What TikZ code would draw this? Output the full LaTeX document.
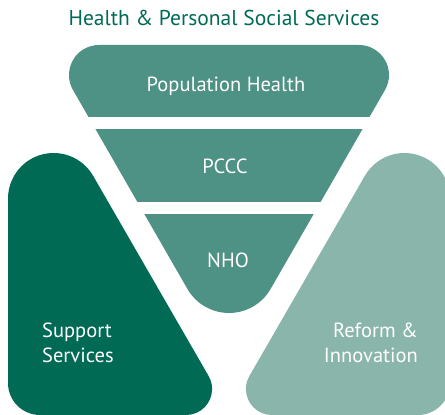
\documentclass[tikz,border=0pt]{standalone}
\usepackage{fontspec}
\setmainfont{PT Sans}
\definecolor{hpssdark}{HTML}{006A55}
\definecolor{hpssmid}{HTML}{4E9185}
\definecolor{hpsslight}{HTML}{8AB5AB}

\begin{document}
\begin{tikzpicture}[x=1pt, y=1pt,
  every node/.style={font=\fontsize{20.5}{25.5}\selectfont, text=white, inner sep=0pt, anchor=base},
  band/.style={fill=hpssmid}]
\clip (0,0) rectangle (445,415);
\begin{scope}
\clip (73,325) arc[start angle=210, end angle=90, radius=30] -- (359,370)
  arc[start angle=90, end angle=-30, radius=30] -- (270.6,126)
  arc[start angle=-30, end angle=-150, radius=48] -- cycle;
\fill[band] (0,298) rectangle (445,380);
\fill[band] (0,213) rectangle (445,286);
\fill[band] (0,0) rectangle (445,201);
\end{scope}
\fill[hpssdark] (93.1,239.2) arc[start angle=30, end angle=180, radius=45.6] -- (8,32)
  arc[start angle=180, end angle=270, radius=32] -- (186.1,0)
  arc[start angle=270, end angle=390, radius=26] -- cycle;
\fill[hpsslight] (364.9,239.2) arc[start angle=150, end angle=0, radius=45.6] -- (450,32)
  arc[start angle=0, end angle=-90, radius=32] -- (271.9,0)
  arc[start angle=270, end angle=150, radius=26] -- cycle;
\node[text=hpssdark, font=\fontsize{21.5}{26}\selectfont] (title) at (224,389) {Health \& Personal Social Services};
\node (pop) at (226,323) {Population Health};
\node (pccc) at (225,241) {PCCC};
\node (nho) at (228,147) {NHO};
\node[anchor=base west, align=left] (support) at (42,52) {Support\\Services};
\node[anchor=base east, align=right] (reform) at (418,52) {Reform \&\\Innovation};
\end{tikzpicture}
\end{document}
